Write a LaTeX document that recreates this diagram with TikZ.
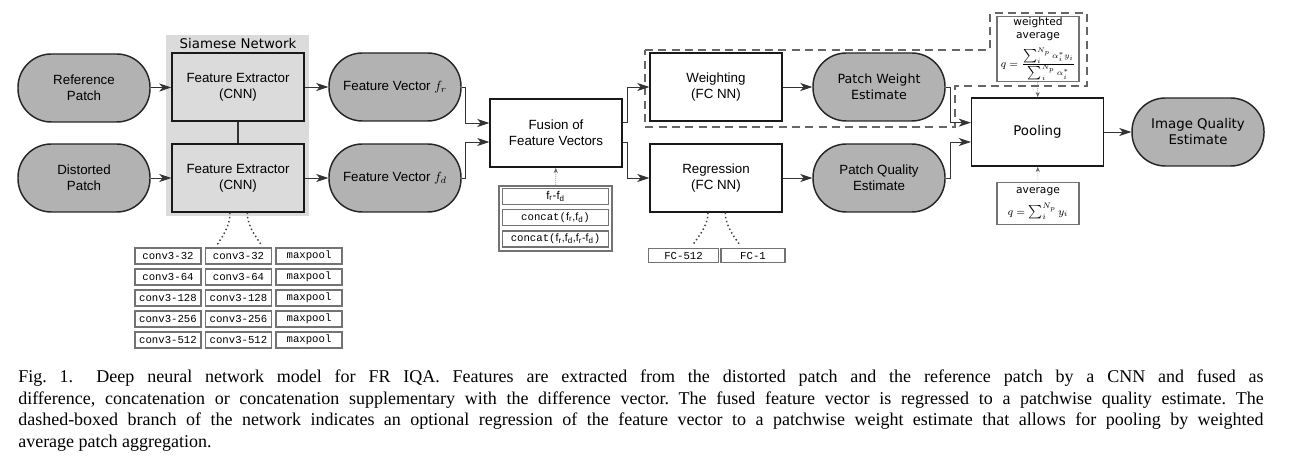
\documentclass[tikz,border=0pt]{standalone}
\usepackage{fontspec}
\setmainfont{Liberation Serif}
\setsansfont{Liberation Sans}
\setmonofont{Liberation Mono}
\newfontfamily\dejavu{DejaVu Sans}
\usetikzlibrary{arrows.meta}

\tikzset{
 pill/.style={draw=black!85,line width=1.1pt,fill=black!30,rounded corners=25pt,
   minimum width=99pt,minimum height=51pt,align=center,font=\sffamily\fontsize{10}{12}\selectfont},
 blk/.style={draw=black!90,line width=1.1pt,fill=white,minimum width=99pt,
   minimum height=51pt,align=center,font=\sffamily\fontsize{10}{12}\selectfont},
 lyr/.style={draw=black!55,line width=0.9pt,fill=white,minimum width=49.5pt,
   minimum height=12pt,inner sep=0pt,font=\ttfamily\fontsize{8}{9}\selectfont},
 note/.style={draw=black!55,line width=0.9pt,fill=white,minimum width=61.5pt,
   align=center,inner sep=1pt,font=\dejavu\fontsize{8}{9.5}\selectfont},
 arr/.style={draw=black!80,line width=0.6pt,-{Stealth[length=9pt,width=6pt,inset=2.5pt]}},
 dots/.style={black!75,line width=1.1pt,dotted},
 darr/.style={black!60,line width=0.5pt,densely dotted,-{Stealth[length=4pt,width=3pt]}},
}

\begin{document}
\begin{tikzpicture}[x=0.75pt,y=-0.75pt]
 \useasboundingbox (0,0) rectangle (1316,466);
 % siamese network
 \fill[black!14] (166,35) rectangle (309,216);
 \node[font=\dejavu\fontsize{10}{12}\selectfont] (siam) at (238,44) {Siamese Network};
 \node[pill] (ref) at (84,88) {Reference\\Patch};
 \node[pill] (dis) at (84,178) {Distorted\\Patch};
 \node[blk,fill=black!14] (fe1) at (238,87) {Feature Extractor\\(CNN)};
 \node[blk,fill=black!14] (fe2) at (238,178) {Feature Extractor\\(CNN)};
 \foreach \i/\n in {0/32,1/64,2/128,3/256,4/512} {
  \node[lyr] (ca-\i) at (168,256+21*\i) {conv3-\n};
  \node[lyr] (cb-\i) at (238.5,256+21*\i) {conv3-\n};
  \node[lyr] (mp-\i) at (309,256+21*\i) {maxpool};
 }
 % fusion
 \node[pill] (fvr) at (395,87) {Feature Vector $f_r$};
 \node[pill] (fvd) at (395,178) {Feature Vector $f_d$};
 \node[blk] (fus) at (556,133) {Fusion of\\Feature Vectors};
 \node[draw=black!55,line width=1.2pt,minimum width=85pt,minimum height=49pt] (opts) at (555.5,218.5) {};
 \node[lyr,minimum width=80pt,font=\sffamily\fontsize{8.5}{9}\selectfont] (o1) at (555.5,196.5) {f\textsubscript{r}-f\textsubscript{d}};
 \node[lyr,minimum width=80pt] (o2) at (555.5,217.5) {concat(\textsf{f\textsubscript{r},f\textsubscript{d}})};
 \node[lyr,minimum width=80pt] (o3) at (555.5,239) {concat(\textsf{f\textsubscript{r},f\textsubscript{d},f\textsubscript{r}-f\textsubscript{d}})};
 % optional weighting branch
 \draw[black!60,line width=0.9pt,dash pattern=on 6pt off 4pt] (645,50) -- (990,50) -- (990,13)
   -- (1087,13) -- (1087,86) -- (955,86) -- (955,127) -- (645,127) -- cycle;
 \node[blk] (wgt) at (716,87) {Weighting\\(FC NN)};
 \node[blk] (reg) at (716,178) {Regression\\(FC NN)};
 \node[lyr,minimum width=52pt,minimum height=11pt] (fc1) at (683.5,255.5) {FC-512};
 \node[lyr,minimum width=48pt,minimum height=11pt] (fc2) at (753,255.5) {FC-1};
 \node[pill,font=\dejavu\fontsize{9.5}{12}\selectfont] (pwe) at (879,87) {Patch Weight\\Estimate};
 \node[pill] (pqe) at (879,178) {Patch Quality\\Estimate};
 % pooling
 \node[note,minimum height=48pt] (wavg) at (1038,49) {weighted\\average\\[5pt]$q=\frac{\sum\nolimits_i^{N_p}\alpha_i^* y_i}{\sum\nolimits_i^{N_p}\alpha_i^*}$};
 \node[blk,font=\dejavu\fontsize{10}{12}\selectfont] (pool) at (1037.5,132) {Pooling};
 \node[note,minimum height=31pt] (avg) at (1038,203.5) {average\\[5pt]$q=\sum\nolimits_i^{N_p} y_i$};
 \node[pill,font=\dejavu\fontsize{10}{12}\selectfont] (iqe) at (1198,132) {Image Quality\\Estimate};

 \draw[arr] (ref) -- (fe1);
 \draw[arr] (dis) -- (fe2);
 \draw[black!80,line width=0.8pt] (fe1) -- (fe2);
 \draw[arr] (fe1) -- (fvr);
 \draw[arr] (fe2) -- (fvd);
 \draw[arr] (fvr.east) -- ++(4,0) |- ([yshift=7.5pt]fus.west);
 \draw[arr] (fvd.east) -- ++(4,0) |- ([yshift=-6.75pt]fus.west);
 \draw[arr] ([yshift=8pt]fus.east) -- ++(5,0) |- (wgt.west);
 \draw[arr] ([yshift=-7pt]fus.east) -- ++(5,0) |- (reg.west);
 \draw[arr] (wgt) -- (pwe);
 \draw[arr] (reg) -- (pqe);
 \draw[arr] (pwe.east) -- ++(5,0) |- ([yshift=7pt]pool.west);
 \draw[arr] (pqe.east) -- ++(5,0) |- ([yshift=-7.5pt]pool.west);
 \draw[arr] (pool) -- (iqe);
 \draw[darr] (opts) -- (fus);
 \draw[darr] (wavg) -- (pool);
 \draw[darr] (avg) -- (pool);
 \draw[dots] ([xshift=-6pt]fe2.south) .. controls +(0,14) and +(5,-8) .. ([xshift=-16pt,yshift=2pt]cb-0.north);
 \draw[dots] ([xshift=7pt]fe2.south) .. controls +(0,14) and +(-5,-8) .. ([xshift=17pt,yshift=2pt]cb-0.north);
 \draw[dots] ([xshift=-6pt]reg.south) .. controls +(0,14) and +(5,-8) .. ([xshift=7pt,yshift=2pt]fc1.north);
 \draw[dots] ([xshift=7pt]reg.south) .. controls +(0,14) and +(-5,-8) .. ([xshift=-10pt,yshift=2pt]fc2.north);

 % caption
 \node[anchor=north west,text width=934pt,align=justify,inner sep=0pt,
   font=\rmfamily\frenchspacing\fontsize{13.5}{16.1}\selectfont] (cap) at (18,370) {Fig.~1.\hskip 1.3em Deep neural network model for FR IQA. Features are extracted from the distorted patch and the reference patch by a CNN and fused as\linebreak
 difference, concatenation or concatenation supplementary with the difference vector. The fused feature vector is regressed to a patchwise quality estimate. The\linebreak
 dashed-boxed branch of the network indicates an optional regression of the feature vector to a patchwise weight estimate that allows for pooling by weighted\linebreak
 average patch aggregation.};
\end{tikzpicture}
\end{document}
